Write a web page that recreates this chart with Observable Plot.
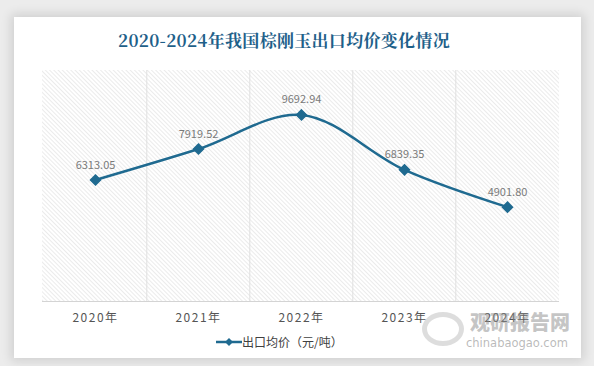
<!DOCTYPE html>
<html><head><meta charset="utf-8">
<script src="https://cdn.jsdelivr.net/npm/d3@7"></script>
<script src="https://cdn.jsdelivr.net/npm/@observablehq/plot@0.6"></script>
<style>
html,body{margin:0;padding:0;background:#ececec;}
#wrap{position:relative;width:594px;height:366px;overflow:hidden;background:#ececec;}
#card{position:absolute;left:14px;top:17px;width:567px;height:341px;background:#fff;box-shadow:0 0 10px 3px rgba(0,0,0,0.12);}
#title{position:absolute;left:0;top:27px;width:568px;text-align:center;font-family:"Noto Serif CJK SC","Noto Sans CJK SC",serif;font-weight:bold;font-size:17px;color:#1e6089;letter-spacing:0.3px;}
#chart{position:absolute;left:0;top:0;}
#legend{position:absolute;top:333px;left:216px;font-family:"Noto Sans CJK SC",sans-serif;font-size:12px;color:#404040;display:flex;align-items:center;white-space:nowrap;}
#wm1{position:absolute;left:470px;top:310px;font-family:"Noto Sans CJK SC",sans-serif;font-weight:900;font-size:20px;line-height:24px;color:rgba(140,140,140,0.5);white-space:nowrap;}
#wm2{position:absolute;left:466px;top:336px;font-family:"DejaVu Sans",sans-serif;font-size:11.5px;line-height:14px;color:rgba(140,140,140,0.6);white-space:nowrap;}
#wm0{position:absolute;left:422px;top:312px;width:42px;height:34px;border-radius:50%;border:5px solid rgba(170,170,170,0.4);box-sizing:border-box;}
</style></head>
<body><div id="wrap">
<div id="card"></div>
<div id="title">2020-2024年我国棕刚玉出口均价变化情况</div>
<div id="chart"></div>
<div id="wm0"></div>
<div id="wm1">观研报告网</div>
<div id="wm2">chinabaogao.com</div>
<div id="legend"><svg width="26" height="10"><line x1="0" y1="5" x2="26" y2="5" stroke="#1f6a90" stroke-width="2.5"/><path d="M13 1 L17 5 L13 9 L9 5Z" fill="#1f6a90"/></svg><span>出口均价（元/吨）</span></div>
</div>
<script>
const years = ["2020年","2021年","2022年","2023年","2024年"];
const prices = [6313.05, 7919.52, 9692.94, 6839.35, 4901.80];
const labels = ["6313.05","7919.52","9692.94","6839.35","4901.80"];
const seriesName = "出口均价（元/吨）";

const data = years.map((y,i)=>({year:y, price:prices[i], label:labels[i]}));
const color = "#1f6a90";

const chart = Plot.plot({
  width: 594, height: 366,
  marginLeft: 42, marginRight: 35, marginTop: 70, marginBottom: 65,
  style: {background:"transparent", fontFamily:"Noto Sans CJK SC, sans-serif"},
  x: {type:"point", domain: years, padding: 0.5, label:null, tickSize:0, tickPadding:12},
  y: {domain:[0,12000], axis:null},
  marks: [
    () => {
      const ns = "http://www.w3.org/2000/svg";
      const g = document.createElementNS(ns,"g");
      const defs = document.createElementNS(ns,"defs");
      defs.innerHTML = `<pattern id="hatch" width="3" height="3" patternUnits="userSpaceOnUse" patternTransform="rotate(-45)"><line x1="0" y1="0" x2="0" y2="3" stroke="#d2d2d2" stroke-width="0.9"/></pattern>`;
      g.appendChild(defs);
      const r = document.createElementNS(ns,"rect");
      r.setAttribute("x",42); r.setAttribute("y",70); r.setAttribute("width",517); r.setAttribute("height",231);
      r.setAttribute("fill","url(#hatch)");
      g.appendChild(r);
      return g;
    },
    Plot.ruleX(years.slice(1), {x: d=>d, dx: -51.7, stroke:"#e0e0e0", strokeWidth:1, strokeOpacity:1}),
    Plot.ruleY([0], {stroke:"#d4d4d4", strokeWidth:1}),
    Plot.line(data, {x:"year", y:"price", stroke: color, strokeWidth: 2.5, curve:"catmull-rom"}),
    Plot.dot(data, {x:"year", y:"price", symbol:"diamond2", r:4.5, fill: color, stroke: color}),
    Plot.text(data, {x:"year", y:"price", text:"label", dy:-15, fill:"#7a7a7a", fontSize:11})
  ]
});
chart.querySelectorAll('[aria-label="x-axis tick label"] text').forEach(t=>{
  t.setAttribute("fill","#555"); t.style.letterSpacing="1.5px"; t.setAttribute("font-size","12");
});
document.getElementById("chart").appendChild(chart);
</script>
</body></html>
